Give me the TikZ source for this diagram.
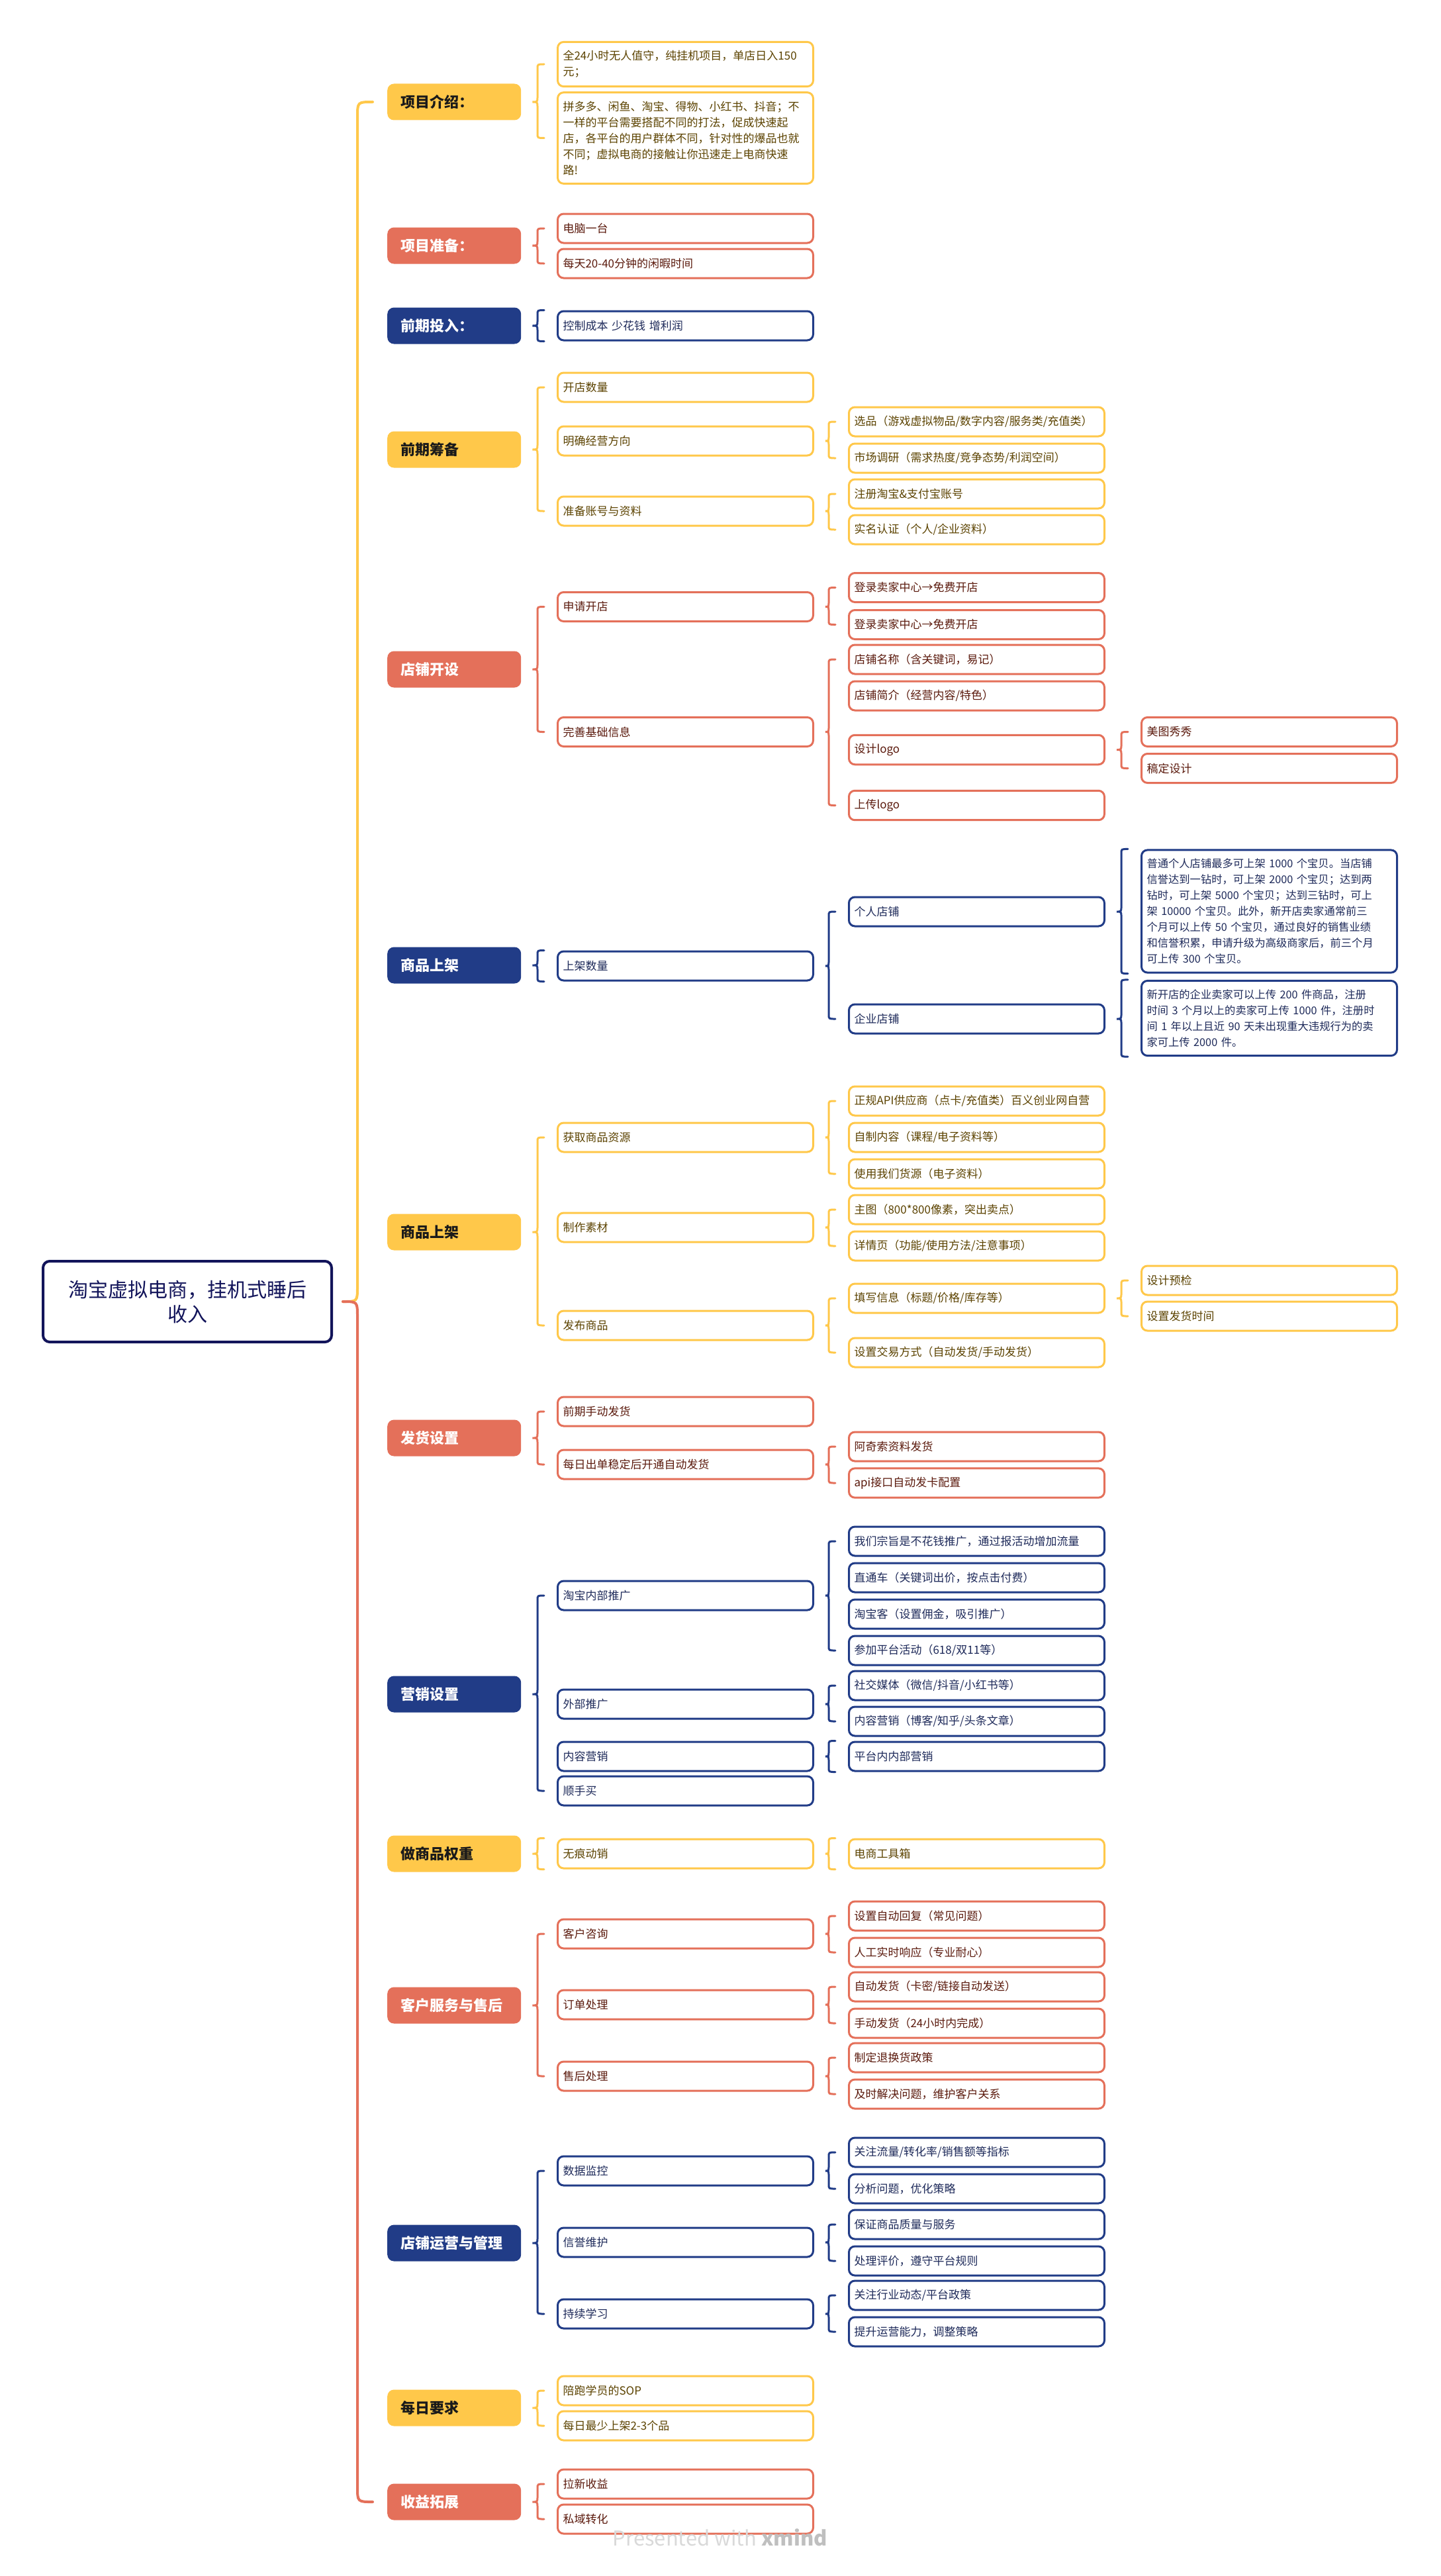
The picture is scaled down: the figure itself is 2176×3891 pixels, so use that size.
\documentclass[tikz,border=0pt]{standalone}
\usepackage{fontspec}
\setmainfont{Noto Sans CJK SC}
\usetikzlibrary{calc}

\definecolor{mmRoot}{HTML}{12145A}
\definecolor{mmYel}{HTML}{FFC84A}
\definecolor{mmYelhead}{HTML}{1A1A1A}
\definecolor{mmYeltext}{HTML}{5C4300}
\definecolor{mmRed}{HTML}{E4705A}
\definecolor{mmRedhead}{HTML}{FFFFFF}
\definecolor{mmRedtext}{HTML}{5B1A0D}
\definecolor{mmBlu}{HTML}{213C87}
\definecolor{mmBluhead}{HTML}{FFFFFF}
\definecolor{mmBlutext}{HTML}{1E2A5A}

% brace from a parent to its first and last child
\newcommand{\brc}[4]{%
  \draw[brc=#1] let \p1=($(#2.east)+(17pt,0)$), \p2=(#3), \p3=(#4) in
    (\x2-19pt,\y2) .. controls (\x2-29pt,\y2) .. (\x2-29pt,\y2-7pt)
    -- (\x2-29pt,\y1+8pt) .. controls (\x2-29pt,\y1) .. (\x1,\y1)
    .. controls (\x2-29pt,\y1) .. (\x2-29pt,\y1-8pt)
    -- (\x2-29pt,\y3+7pt) .. controls (\x2-29pt,\y3) .. (\x2-19pt,\y3);}

\begin{document}
\begin{tikzpicture}[x=1pt, y=-1pt,
    root/.style={
        draw=mmRoot,
        line width=4pt,
        rounded corners=10pt,
        fill=white,
        text=mmRoot,
        minimum width=436pt,
        minimum height=122pt,
        align=center,
        font=\fontsize{30}{37}\selectfont,
    },
    topic/.style={
        fill=#1,
        text=#1head,
        rounded corners=10pt,
        anchor=west,
        minimum height=55pt,
        text width=162pt,
        inner xsep=20pt,
        align=left,
        font=\fontsize{22}{26}\selectfont\bfseries,
    },
    leaf/.style={
        draw=#1,
        text=#1text,
        line width=3pt,
        rounded corners=9pt,
        fill=white,
        anchor=west,
        minimum height=44pt,
        text width=370pt,
        inner xsep=8pt,
        inner ysep=13pt,
        align=left,
        font=\fontsize{17}{24}\selectfont,
    },
    longtext/.style={font=\fontsize{16.3}{24}\selectfont},
    brc/.style={draw=#1, line width=3pt, line cap=round},
    trunk/.style={draw=#1, line width=4pt, line cap=round},
]

\fill[white] (0,0) rectangle (2176,3891);
\useasboundingbox (0,0) rectangle (2176,3891);

\node[root] (root) at (283,1966) {淘宝虚拟电商，挂机式睡后\\收入};

% main topics
\node[topic=mmYel] (intro) at (585,154) {项目介绍：};
\node[topic=mmRed] (prep) at (585,371) {项目准备：};
\node[topic=mmBlu] (invest) at (585,492) {前期投入：};
\node[topic=mmYel] (plan) at (585,679) {前期筹备};
\node[topic=mmRed] (shop) at (585,1011) {店铺开设};
\node[topic=mmBlu] (listA) at (585,1458) {商品上架};
\node[topic=mmYel] (listB) at (585,1861) {商品上架};
\node[topic=mmRed] (ship) at (585,2172) {发货设置};
\node[topic=mmBlu] (mkt) at (585,2559) {营销设置};
\node[topic=mmYel] (weight) at (585,2800) {做商品权重};
\node[topic=mmRed] (service) at (585,3029) {客户服务与售后};
\node[topic=mmBlu] (ops) at (585,3388) {店铺运营与管理};
\node[topic=mmYel] (daily) at (585,3637) {每日要求};
\node[topic=mmRed] (income) at (585,3779) {收益拓展};

% main brace
\draw[trunk=mmYel] let \p1=($(root.east)+(15pt,0)$), \p2=($(intro.west)+(-22pt,0)$) in
    (\p1) .. controls (\x2-23pt,\y1) .. (\x2-23pt,\y1+23pt)
    -- (\x2-23pt,\y2-23pt) .. controls (\x2-23pt,\y2) .. (\p2);
\draw[trunk=mmRed] let \p1=($(root.east)+(15pt,0)$), \p3=($(income.west)+(-22pt,0)$) in
    (\p1) .. controls (\x3-23pt,\y1) .. (\x3-23pt,\y1-23pt)
    -- (\x3-23pt,\y3+23pt) .. controls (\x3-23pt,\y3) .. (\p3);

% 项目介绍 / 项目准备 / 前期投入
\node[leaf=mmYel] (intro1) at (841,97) {全24小时无人值守，纯挂机项目，单店日入150\\元；};
\node[leaf=mmYel] (intro2) at (841,208.5) {拼多多、闲鱼、淘宝、得物、小红书、抖音；不\\一样的平台需要搭配不同的打法，促成快速起\\店，各平台的用户群体不同，针对性的爆品也就\\不同；虚拟电商的接触让你迅速走上电商快速\\路!};
\node[leaf=mmRed] (prep1) at (841,345) {电脑一台};
\node[leaf=mmRed] (prep2) at (841,398) {每天20-40分钟的闲暇时间};
\node[leaf=mmBlu] (invest1) at (841,492) {控制成本 少花钱 增利润};
\brc{mmYel}{intro}{intro1.west}{intro2.west}
\brc{mmRed}{prep}{prep1.west}{prep2.west}
\brc{mmBlu}{invest}{invest1.north west}{invest1.south west}

% 前期筹备
\node[leaf=mmYel] (plan1) at (841,585) {开店数量};
\node[leaf=mmYel] (plan2) at (841,666) {明确经营方向};
\node[leaf=mmYel] (plan3) at (841,772) {准备账号与资料};
\node[leaf=mmYel] (plan21) at (1281,637) {选品（游戏虚拟物品/数字内容/服务类/充值类）};
\node[leaf=mmYel] (plan22) at (1281,692) {市场调研（需求热度/竞争态势/利润空间）};
\node[leaf=mmYel] (plan31) at (1281,746) {注册淘宝\&支付宝账号};
\node[leaf=mmYel] (plan32) at (1281,800) {实名认证（个人/企业资料）};
\brc{mmYel}{plan}{plan1.west}{plan3.west}
\brc{mmYel}{plan2}{plan21.west}{plan22.west}
\brc{mmYel}{plan3}{plan31.west}{plan32.west}

% 店铺开设
\node[leaf=mmRed] (shop1) at (841,916.5) {申请开店};
\node[leaf=mmRed] (shop2) at (841,1105.5) {完善基础信息};
\node[leaf=mmRed] (shop11) at (1281,887.5) {登录卖家中心→免费开店};
\node[leaf=mmRed] (shop12) at (1281,943.5) {登录卖家中心→免费开店};
\node[leaf=mmRed] (shop21) at (1281,996) {店铺名称（含关键词，易记）};
\node[leaf=mmRed] (shop22) at (1281,1051) {店铺简介（经营内容/特色）};
\node[leaf=mmRed] (shop23) at (1281,1132.5) {设计logo};
\node[leaf=mmRed] (shop24) at (1281,1216.5) {上传logo};
\node[leaf=mmRed] (shop231) at (1723,1105.5) {美图秀秀};
\node[leaf=mmRed] (shop232) at (1723,1160.5) {稿定设计};
\brc{mmRed}{shop}{shop1.west}{shop2.west}
\brc{mmRed}{shop1}{shop11.west}{shop12.west}
\brc{mmRed}{shop2}{shop21.west}{shop24.west}
\brc{mmRed}{shop23}{shop231.west}{shop232.west}

% 商品上架 (数量)
\node[leaf=mmBlu] (listA1) at (841,1459) {上架数量};
\node[leaf=mmBlu] (listA11) at (1281,1377) {个人店铺};
\node[leaf=mmBlu] (listA12) at (1281,1539) {企业店铺};
\node[leaf=mmBlu, longtext] (listA111) at (1723,1376.5) {普通个人店铺最多可上架 1000 个宝贝。当店铺\\信誉达到一钻时，可上架 2000 个宝贝；达到两\\钻时，可上架 5000 个宝贝；达到三钻时，可上\\架 10000 个宝贝。此外，新开店卖家通常前三\\个月可以上传 50 个宝贝，通过良好的销售业绩\\和信誉积累，申请升级为高级商家后，前三个月\\可上传 300 个宝贝。};
\node[leaf=mmBlu, longtext] (listA121) at (1723,1538) {新开店的企业卖家可以上传 200 件商品，注册\\时间 3 个月以上的卖家可上传 1000 件，注册时\\间 1 年以上且近 90 天未出现重大违规行为的卖\\家可上传 2000 件。};
\brc{mmBlu}{listA}{listA1.north west}{listA1.south west}
\brc{mmBlu}{listA1}{listA11.west}{listA12.west}
\brc{mmBlu}{listA11}{listA111.north west}{listA111.south west}
\brc{mmBlu}{listA12}{listA121.north west}{listA121.south west}

% 商品上架 (流程)
\node[leaf=mmYel] (listB1) at (841,1718) {获取商品资源};
\node[leaf=mmYel] (listB2) at (841,1854) {制作素材};
\node[leaf=mmYel] (listB3) at (841,2002) {发布商品};
\node[leaf=mmYel] (listB11) at (1281,1663) {正规API供应商（点卡/充值类）百义创业网自营};
\node[leaf=mmYel] (listB12) at (1281,1718) {自制内容（课程/电子资料等）};
\node[leaf=mmYel] (listB13) at (1281,1773) {使用我们货源（电子资料）};
\node[leaf=mmYel] (listB21) at (1281,1827) {主图（800*800像素，突出卖点）};
\node[leaf=mmYel] (listB22) at (1281,1882) {详情页（功能/使用方法/注意事项）};
\node[leaf=mmYel] (listB31) at (1281,1961) {填写信息（标题/价格/库存等）};
\node[leaf=mmYel] (listB32) at (1281,2043) {设置交易方式（自动发货/手动发货）};
\node[leaf=mmYel] (listB311) at (1723,1934) {设计预检};
\node[leaf=mmYel] (listB312) at (1723,1988) {设置发货时间};
\brc{mmYel}{listB}{listB1.west}{listB3.west}
\brc{mmYel}{listB1}{listB11.west}{listB13.west}
\brc{mmYel}{listB2}{listB21.west}{listB22.west}
\brc{mmYel}{listB3}{listB31.west}{listB32.west}
\brc{mmYel}{listB31}{listB311.west}{listB312.west}

% 发货设置
\node[leaf=mmRed] (ship1) at (841,2132) {前期手动发货};
\node[leaf=mmRed] (ship2) at (841,2212) {每日出单稳定后开通自动发货};
\node[leaf=mmRed] (ship21) at (1281,2185) {阿奇索资料发货};
\node[leaf=mmRed] (ship22) at (1281,2240) {api接口自动发卡配置};
\brc{mmRed}{ship}{ship1.west}{ship2.west}
\brc{mmRed}{ship2}{ship21.west}{ship22.west}

% 营销设置
\node[leaf=mmBlu] (mkt1) at (841,2410) {淘宝内部推广};
\node[leaf=mmBlu] (mkt2) at (841,2574) {外部推广};
\node[leaf=mmBlu] (mkt3) at (841,2653) {内容营销};
\node[leaf=mmBlu] (mkt4) at (841,2705) {顺手买};
\node[leaf=mmBlu] (mkt11) at (1281,2328) {我们宗旨是不花钱推广，通过报活动增加流量};
\node[leaf=mmBlu] (mkt12) at (1281,2383) {直通车（关键词出价，按点击付费）};
\node[leaf=mmBlu] (mkt13) at (1281,2438) {淘宝客（设置佣金，吸引推广）};
\node[leaf=mmBlu] (mkt14) at (1281,2493) {参加平台活动（618/双11等）};
\node[leaf=mmBlu] (mkt21) at (1281,2546) {社交媒体（微信/抖音/小红书等）};
\node[leaf=mmBlu] (mkt22) at (1281,2600) {内容营销（博客/知乎/头条文章）};
\node[leaf=mmBlu] (mkt31) at (1281,2653) {平台内内部营销};
\brc{mmBlu}{mkt}{mkt1.west}{mkt4.west}
\brc{mmBlu}{mkt1}{mkt11.west}{mkt14.west}
\brc{mmBlu}{mkt2}{mkt21.west}{mkt22.west}
\brc{mmBlu}{mkt3}{mkt31.north west}{mkt31.south west}

% 做商品权重
\node[leaf=mmYel] (weight1) at (841,2800) {无痕动销};
\node[leaf=mmYel] (weight11) at (1281,2800) {电商工具箱};
\brc{mmYel}{weight}{weight1.north west}{weight1.south west}
\brc{mmYel}{weight1}{weight11.north west}{weight11.south west}

% 客户服务与售后
\node[leaf=mmRed] (service1) at (841,2921) {客户咨询};
\node[leaf=mmRed] (service2) at (841,3028) {订单处理};
\node[leaf=mmRed] (service3) at (841,3136) {售后处理};
\node[leaf=mmRed] (service11) at (1281,2894) {设置自动回复（常见问题）};
\node[leaf=mmRed] (service12) at (1281,2949) {人工实时响应（专业耐心）};
\node[leaf=mmRed] (service21) at (1281,3001) {自动发货（卡密/链接自动发送）};
\node[leaf=mmRed] (service22) at (1281,3056) {手动发货（24小时内完成）};
\node[leaf=mmRed] (service31) at (1281,3108) {制定退换货政策};
\node[leaf=mmRed] (service32) at (1281,3163) {及时解决问题，维护客户关系};
\brc{mmRed}{service}{service1.west}{service3.west}
\brc{mmRed}{service1}{service11.west}{service12.west}
\brc{mmRed}{service2}{service21.west}{service22.west}
\brc{mmRed}{service3}{service31.west}{service32.west}

% 店铺运营与管理
\node[leaf=mmBlu] (ops1) at (841,3279) {数据监控};
\node[leaf=mmBlu] (ops2) at (841,3387) {信誉维护};
\node[leaf=mmBlu] (ops3) at (841,3495) {持续学习};
\node[leaf=mmBlu] (ops11) at (1281,3251) {关注流量/转化率/销售额等指标};
\node[leaf=mmBlu] (ops12) at (1281,3306) {分析问题，优化策略};
\node[leaf=mmBlu] (ops21) at (1281,3360) {保证商品质量与服务};
\node[leaf=mmBlu] (ops22) at (1281,3415) {处理评价，遵守平台规则};
\node[leaf=mmBlu] (ops31) at (1281,3467) {关注行业动态/平台政策};
\node[leaf=mmBlu] (ops32) at (1281,3522) {提升运营能力，调整策略};
\brc{mmBlu}{ops}{ops1.west}{ops3.west}
\brc{mmBlu}{ops1}{ops11.west}{ops12.west}
\brc{mmBlu}{ops2}{ops21.west}{ops22.west}
\brc{mmBlu}{ops3}{ops31.west}{ops32.west}

% 每日要求 / 收益拓展
\node[leaf=mmYel] (daily1) at (841,3611) {陪跑学员的SOP};
\node[leaf=mmYel] (daily2) at (841,3664) {每日最少上架2-3个品};
\node[leaf=mmRed] (income1) at (841,3752) {拉新收益};
\node[leaf=mmRed] (income2) at (841,3805) {私域转化};
\brc{mmYel}{daily}{daily1.west}{daily2.west}
\brc{mmRed}{income}{income1.west}{income2.west}

\node[text=black!15, font=\fontsize{31}{31}\selectfont] (mark) at (1088,3833) {Presented with \textcolor{black!25}{\bfseries xmind}};

\end{tikzpicture}
\end{document}
